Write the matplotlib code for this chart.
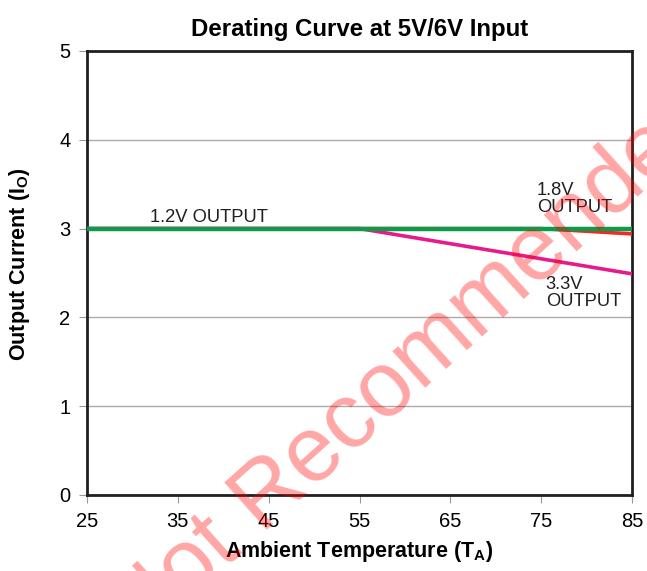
import matplotlib.pyplot as plt

plt.rcParams['font.family'] = ['Liberation Sans', 'DejaVu Sans']
plt.rcParams['mathtext.fontset'] = 'custom'
plt.rcParams['mathtext.rm'] = 'Liberation Sans'
plt.rcParams['mathtext.bf'] = 'Liberation Sans:bold'

# datos
temp_12 = [25, 85]
corr_12 = [3.0, 3.0]
temp_18 = [25, 75, 85]
corr_18 = [3.0, 3.0, 2.94]
temp_33 = [25, 55, 85]
corr_33 = [3.0, 3.0, 2.49]
xticks = [25, 35, 45, 55, 65, 75, 85]
yticks = [0, 1, 2, 3, 4, 5]

fig = plt.figure(figsize=(6.47, 5.71), dpi=100)
ax = fig.add_axes([0.1345, 0.1331, 0.8425, 0.7776])

ax.plot(temp_33, corr_33, color='#e8198b', lw=2.6, solid_capstyle='butt', zorder=3)
ax.plot(temp_18, corr_18, color='#ee2b24', lw=2.6, solid_capstyle='butt', zorder=3)
ax.plot(temp_12, corr_12, color='#0e9a48', lw=3.2, solid_capstyle='butt', zorder=4)

ax.text(31.9, 3.07, '1.2V OUTPUT', fontsize=13.2, color='#231f20')
ax.text(74.5, 3.33, '1.8V\nOUTPUT', fontsize=13.2, color='#231f20', va='center', linespacing=1.0)
ax.text(75.5, 2.28, '3.3V\nOUTPUT', fontsize=13.2, color='#231f20', va='center', linespacing=1.0)

ax.set_xlim(25, 85)
ax.set_ylim(0, 5)
ax.set_xticks(xticks)
ax.set_yticks(yticks)
ax.tick_params(direction='out', length=6, color='#999999', labelsize=14.5, pad=6)
ax.grid(axis='y', color='#aaaaaa', lw=1)
ax.set_axisbelow(True)
for s in ax.spines.values():
    s.set_linewidth(2)
    s.set_color('#231f20')

ax.set_title('Derating Curve at 5V/6V Input', fontsize=17.3, fontweight='bold', pad=11)
ax.set_xlabel(r'Ambient Temperature (T$_{\mathbf{A}}$)', fontsize=15.5, fontweight='bold', labelpad=6)
ax.set_ylabel(r'Output Current (I$_{\mathbf{O}}$)', fontsize=15.5, fontweight='bold')
ax.yaxis.set_label_coords(-0.101, 0.52)

# marca de agua
fig.text(0.641, 0.361, 'Not Recommended', fontsize=66, color='red', alpha=0.35,
         rotation=42, ha='center', va='center', rotation_mode='anchor', zorder=10)

plt.savefig('out.png', dpi=100)
